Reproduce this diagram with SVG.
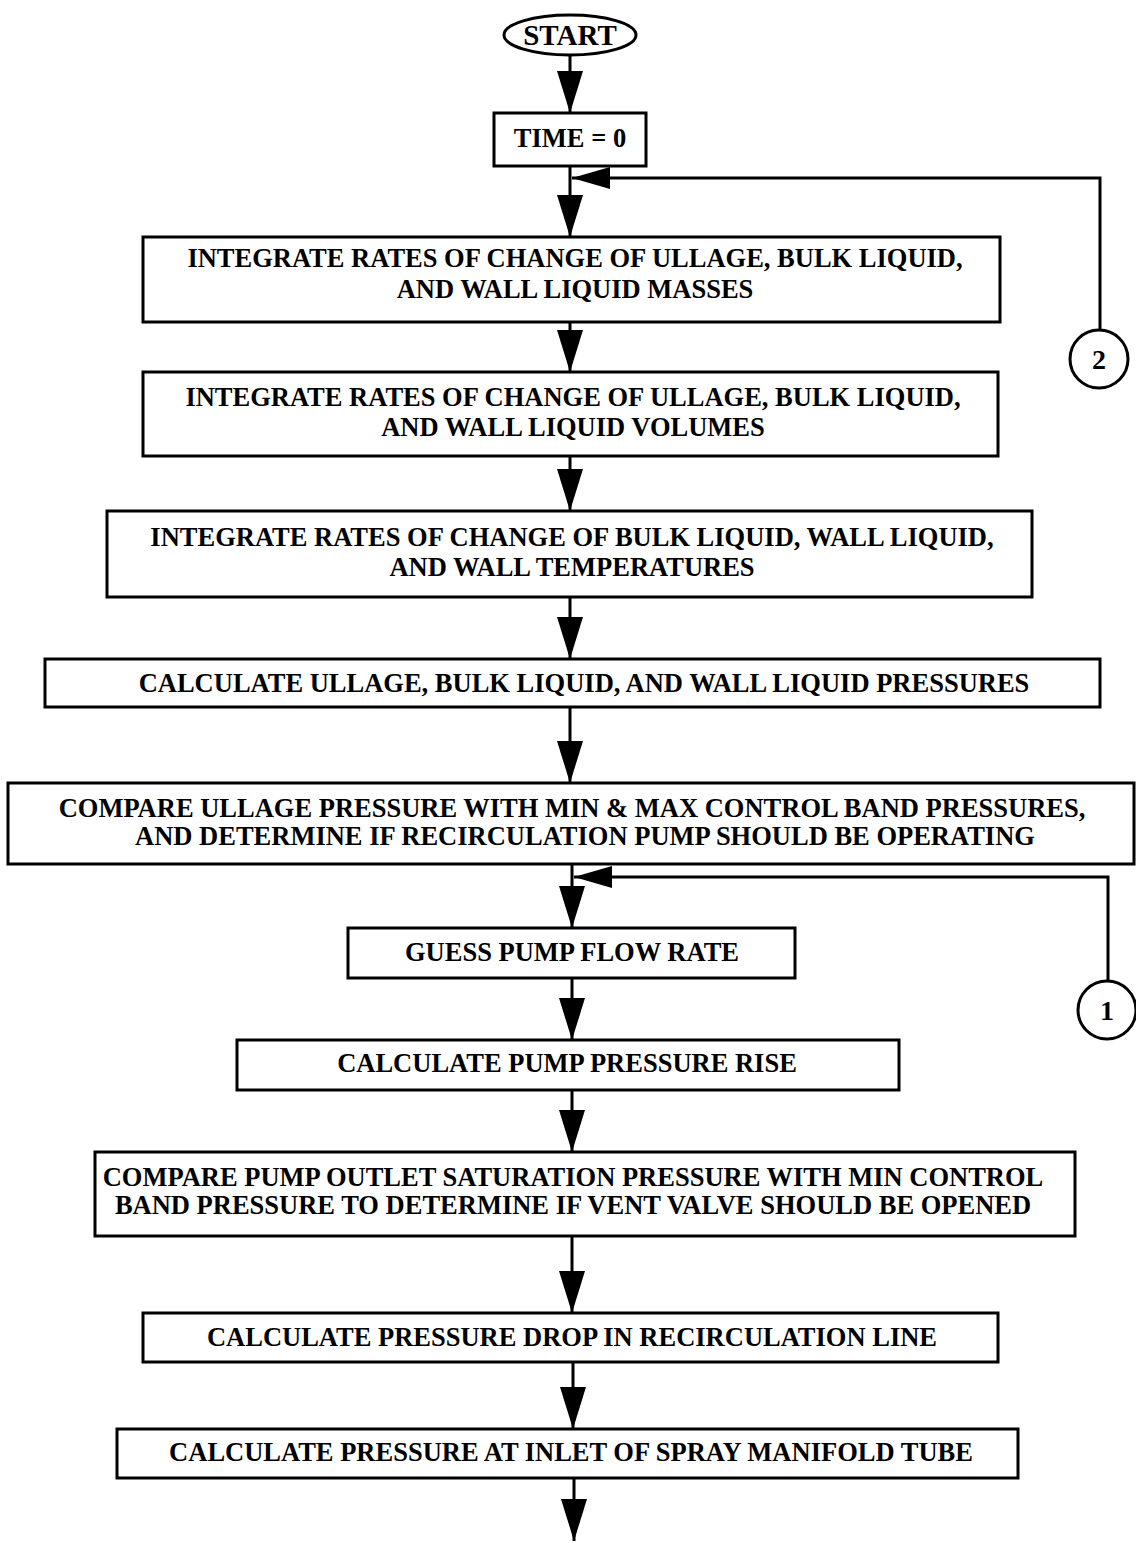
<svg xmlns="http://www.w3.org/2000/svg" width="1136" height="1543" viewBox="0 0 1136 1543">
<style>
.box{fill:#fff;stroke:#000;stroke-width:3}
.t{font-family:"Liberation Serif","Times New Roman",serif;font-weight:bold;font-size:26.5px;text-anchor:middle;fill:#000}
.s{font-size:29px}
.n{font-family:"Liberation Serif","Times New Roman",serif;font-weight:bold;font-size:28px;text-anchor:middle;fill:#000}
.ln{fill:none;stroke:#000;stroke-width:3}
</style>
<defs>
<marker id="ad" markerUnits="userSpaceOnUse" markerWidth="42" markerHeight="26" viewBox="0 0 42 26" refX="42" refY="13" orient="auto">
<path d="M0,0 L42,13 L0,26 Z" fill="#000"/>
</marker>
<marker id="al" markerUnits="userSpaceOnUse" markerWidth="38" markerHeight="22" viewBox="0 0 38 22" refX="38" refY="11" orient="auto">
<path d="M0,0 L38,11 L0,22 Z" fill="#000"/>
</marker>
</defs>
<rect width="1136" height="1543" fill="#fff"/>
<g id="connectors">
<path class="ln" d="M570,55 V113" marker-end="url(#ad)"/>
<path class="ln" d="M570,166 V237" marker-end="url(#ad)"/>
<path class="ln" d="M1100,330 V178 H572" marker-end="url(#al)"/>
<path class="ln" d="M570,322 V372" marker-end="url(#ad)"/>
<path class="ln" d="M570,456 V511" marker-end="url(#ad)"/>
<path class="ln" d="M570,597 V659" marker-end="url(#ad)"/>
<path class="ln" d="M570,707 V783" marker-end="url(#ad)"/>
<path class="ln" d="M572,864 V928" marker-end="url(#ad)"/>
<path class="ln" d="M1108,981 V877 H574" marker-end="url(#al)"/>
<path class="ln" d="M572,978 V1040" marker-end="url(#ad)"/>
<path class="ln" d="M572,1090 V1152" marker-end="url(#ad)"/>
<path class="ln" d="M572,1236 V1313" marker-end="url(#ad)"/>
<path class="ln" d="M573,1362 V1429" marker-end="url(#ad)"/>
<path class="ln" d="M574,1478 V1541" marker-end="url(#ad)"/>
</g>
<g id="start">
<ellipse class="box" cx="570" cy="35" rx="66" ry="20"/>
<text class="t s" x="570" y="45">START</text>
</g>
<g id="time0">
<rect class="box" x="494" y="113" width="152" height="53"/>
<text class="t" x="570" y="147">TIME = 0</text>
</g>
<g id="conn2">
<circle class="box" cx="1099" cy="359" r="29"/>
<text class="n" x="1099" y="369">2</text>
</g>
<g id="masses">
<rect class="box" x="143" y="237" width="857" height="85"/>
<text class="t" x="575" y="267">INTEGRATE RATES OF CHANGE OF ULLAGE, BULK LIQUID,</text>
<text class="t" x="575" y="298">AND WALL LIQUID MASSES</text>
</g>
<g id="volumes">
<rect class="box" x="143" y="372" width="855" height="84"/>
<text class="t" x="573" y="406">INTEGRATE RATES OF CHANGE OF ULLAGE, BULK LIQUID,</text>
<text class="t" x="573" y="436">AND WALL LIQUID VOLUMES</text>
</g>
<g id="temperatures">
<rect class="box" x="107" y="511" width="925" height="86"/>
<text class="t" x="572" y="546">INTEGRATE RATES OF CHANGE OF BULK LIQUID, WALL LIQUID,</text>
<text class="t" x="572" y="576">AND WALL TEMPERATURES</text>
</g>
<g id="pressures">
<rect class="box" x="45" y="659" width="1055" height="48"/>
<text class="t" x="584" y="692">CALCULATE ULLAGE, BULK LIQUID, AND WALL LIQUID PRESSURES</text>
</g>
<g id="compare">
<rect class="box" x="8" y="783" width="1126" height="81"/>
<text class="t" x="572" y="817">COMPARE ULLAGE PRESSURE WITH MIN &amp; MAX CONTROL BAND PRESSURES,</text>
<text class="t" x="585" y="845">AND DETERMINE IF RECIRCULATION PUMP SHOULD BE OPERATING</text>
</g>
<g id="conn1">
<circle class="box" cx="1107" cy="1010" r="29"/>
<text class="n" x="1107" y="1020">1</text>
</g>
<g id="guess">
<rect class="box" x="348" y="928" width="447" height="50"/>
<text class="t" x="572" y="961">GUESS PUMP FLOW RATE</text>
</g>
<g id="pumprise">
<rect class="box" x="237" y="1040" width="662" height="50"/>
<text class="t" x="567" y="1072">CALCULATE PUMP PRESSURE RISE</text>
</g>
<g id="vent">
<rect class="box" x="95" y="1152" width="980" height="84"/>
<text class="t" x="573" y="1186">COMPARE PUMP OUTLET SATURATION PRESSURE WITH MIN CONTROL</text>
<text class="t" x="573" y="1214">BAND PRESSURE TO DETERMINE IF VENT VALVE SHOULD BE OPENED</text>
</g>
<g id="drop">
<rect class="box" x="143" y="1313" width="855" height="49"/>
<text class="t" x="572" y="1346">CALCULATE PRESSURE DROP IN RECIRCULATION LINE</text>
</g>
<g id="inlet">
<rect class="box" x="117" y="1429" width="901" height="49"/>
<text class="t" x="571" y="1461">CALCULATE PRESSURE AT INLET OF SPRAY MANIFOLD TUBE</text>
</g>
</svg>
